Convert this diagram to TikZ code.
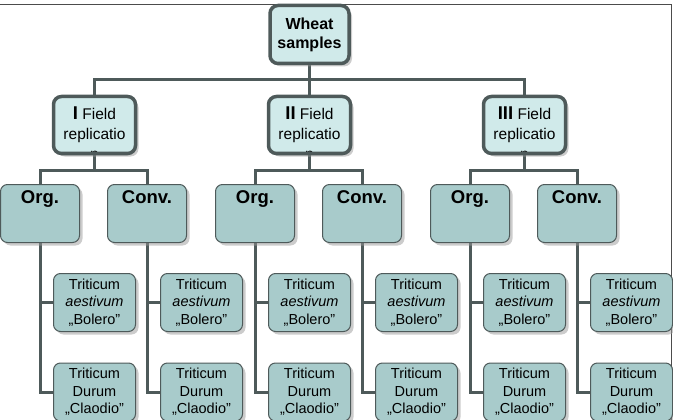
\documentclass[tikz,border=0pt]{standalone}
\usepackage{fontspec}
\setmainfont{Liberation Sans}
\usepackage{tikz}
\usetikzlibrary{positioning, shadows, backgrounds, calc}
\definecolor{topfill}{HTML}{D0EAEA}
\definecolor{lowfill}{HTML}{A8CBCB}
\definecolor{edge}{HTML}{4E5A5A}

\begin{document}
\begin{tikzpicture}[x=1pt, y=-1pt,
    boxshadow/.style={drop shadow={shadow xshift=3pt, shadow yshift=-3pt, fill=black!40, opacity=.5}},
    rootbox/.style={rectangle, rounded corners=8pt, draw=edge, line width=3.5pt, fill=topfill, minimum width=79pt, minimum height=58pt, inner sep=0pt, align=center, font=\fontsize{16}{19}\bfseries\selectfont, boxshadow},
    fieldbox/.style={rectangle, rounded corners=8pt, draw=edge, line width=3.5pt, fill=topfill, minimum width=82pt, minimum height=57pt, inner sep=0pt, align=center, font=\fontsize{15.5}{20}\selectfont, boxshadow,
        path picture={\node[anchor=base, inner sep=0pt, draw=none, fill=none, font=\fontsize{15.5}{20}\selectfont] at ([yshift=-5.5pt]path picture bounding box.south) {n};}},
    groupbox/.style={rectangle, rounded corners=7pt, draw=edge, line width=1pt, fill=lowfill, minimum width=79pt, minimum height=58pt, inner xsep=0pt, inner ysep=5.5pt, text height=14pt, text depth=33pt, font=\fontsize{18.5}{22}\bfseries\selectfont, boxshadow},
    leafbox/.style={rectangle, rounded corners=7pt, draw=edge, line width=1pt, fill=lowfill, minimum width=82pt, minimum height=58pt, inner sep=0pt, align=center, font=\fontsize{14.5}{17.5}\selectfont, boxshadow},
    link/.style={draw=edge, line width=3pt},
    frame/.style={draw=black!70, line width=1.5pt}
]
\useasboundingbox (0,0) rectangle (673,420);

% top of the tree
\node (W) at (309.5,34.5) [rootbox] {Wheat\\samples};
\node (R1) at (94.5,125) [fieldbox] {{\fontsize{18.5}{20}\bfseries\selectfont I} Field\\replicatio};
\node (R2) at (309.5,125) [fieldbox] {{\fontsize{18.5}{20}\bfseries\selectfont II} Field\\replicatio};
\node (R3) at (524.5,125) [fieldbox] {{\fontsize{18.5}{20}\bfseries\selectfont III} Field\\replicatio};

% farming systems
\node (O1) at (40,213.5) [groupbox] {Org.};
\node (V1) at (147,213.5) [groupbox] {Conv.};
\node (O2) at (255,213.5) [groupbox] {Org.};
\node (V2) at (362,213.5) [groupbox] {Conv.};
\node (O3) at (470,213.5) [groupbox] {Org.};
\node (V3) at (577,213.5) [groupbox] {Conv.};

% cultivars
\node (B1) at (94.5,302.5) [leafbox] {Triticum\\\textit{aestivum}\\„Bolero”};
\node (D1) at (94.5,392) [leafbox] {Triticum\\Durum\\„Claodio”};
\node (B2) at (201.5,302.5) [leafbox] {Triticum\\\textit{aestivum}\\„Bolero”};
\node (D2) at (201.5,392) [leafbox] {Triticum\\Durum\\„Claodio”};
\node (B3) at (309.5,302.5) [leafbox] {Triticum\\\textit{aestivum}\\„Bolero”};
\node (D3) at (309.5,392) [leafbox] {Triticum\\Durum\\„Claodio”};
\node (B4) at (416.5,302.5) [leafbox] {Triticum\\\textit{aestivum}\\„Bolero”};
\node (D4) at (416.5,392) [leafbox] {Triticum\\Durum\\„Claodio”};
\node (B5) at (524.5,302.5) [leafbox] {Triticum\\\textit{aestivum}\\„Bolero”};
\node (D5) at (524.5,392) [leafbox] {Triticum\\Durum\\„Claodio”};
\node (B6) at (631.5,302.5) [leafbox] {Triticum\\\textit{aestivum}\\„Bolero”};
\node (D6) at (631.5,392) [leafbox] {Triticum\\Durum\\„Claodio”};

\coordinate (J) at (309.5,80);

\begin{scope}[on background layer]
\draw[frame] (0,4.5) -- (671.5,4.5) -- (671.5,420);
\draw[link] (W.south) -- (R2.north);
\draw[link] (R1.north) |- (J) -| (R3.north);
\draw[link] (R1.south) -- ++(0,15.5) -| (O1.north) (R1.south) ++(0,15.5) -| (V1.north);
\draw[link] (R2.south) -- ++(0,15.5) -| (O2.north) (R2.south) ++(0,15.5) -| (V2.north);
\draw[link] (R3.south) -- ++(0,15.5) -| (O3.north) (R3.south) ++(0,15.5) -| (V3.north);
\draw[link] (O1.south) |- (B1.west) (O1.south) |- (D1.west);
\draw[link] (V1.south) |- (B2.west) (V1.south) |- (D2.west);
\draw[link] (O2.south) |- (B3.west) (O2.south) |- (D3.west);
\draw[link] (V2.south) |- (B4.west) (V2.south) |- (D4.west);
\draw[link] (O3.south) |- (B5.west) (O3.south) |- (D5.west);
\draw[link] (V3.south) |- (B6.west) (V3.south) |- (D6.west);
\end{scope}
\end{tikzpicture}
\end{document}
